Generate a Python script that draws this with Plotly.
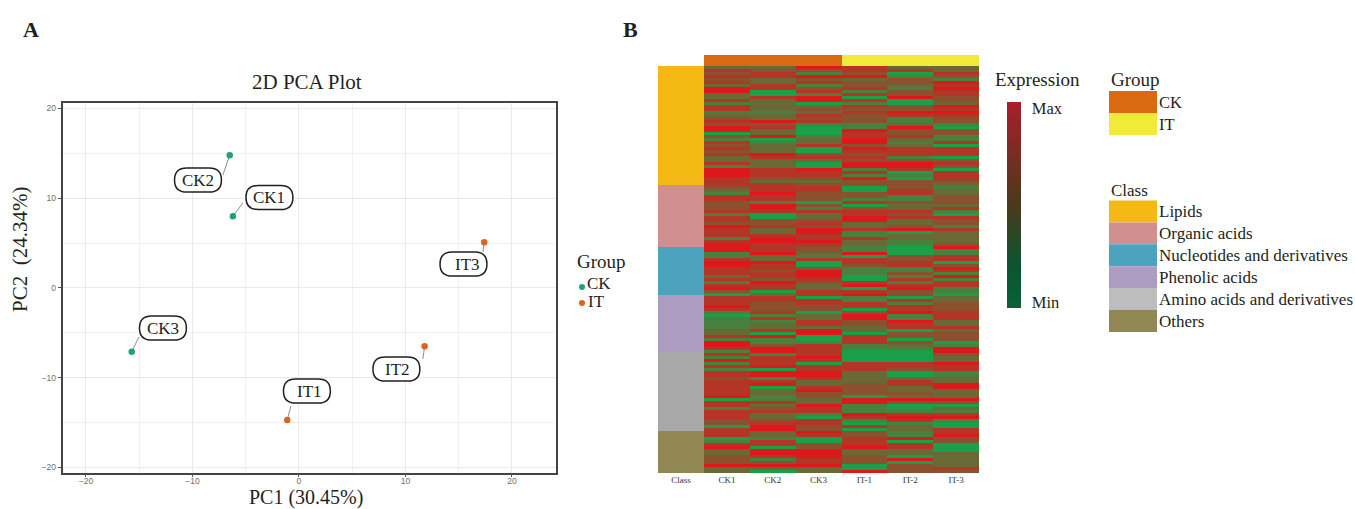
import plotly.graph_objects as go

W, H = 1355, 509
SERIF = "Liberation Serif"
SANS = "Liberation Sans"

# ---- PCA data
samples = ["CK1", "CK2", "CK3", "IT1", "IT2", "IT3"]
pc1 = [-6.2, -6.5, -15.7, -1.1, 11.8, 17.4]
pc2 = [8.0, 14.8, -7.1, -14.7, -6.5, 5.1]
label_x = [-2.77, -9.48, -12.77, 0.75, 9.15, 15.45]
label_y = [10.08, 12.03, -4.46, -11.48, -9.03, 2.67]
text_nudge = [0, 0, 0, 3, 1, 4]
link_x = [-5.26, -7.14, -15.02, -0.75, 11.64, 17.28]
link_y = [9.47, 12.59, -5.46, -13.15, -7.9, 4.0]
groups = ["CK", "CK", "CK", "IT", "IT", "IT"]
group_colors = {"CK": "#1fa27a", "IT": "#d9651f"}

# ---- Heatmap data: one letter per metabolite band
level = {"G": 0.04, "g": 0.26, "o": 0.42, "b": 0.58, "d": 0.78, "r": 0.98}
heat_columns = ["CK1", "CK2", "CK3", "IT-1", "IT-2", "IT-3"]
CK1 = ("odbdbdorroodgddgobdbrrG" "bgdbdbdoodgrrrdddbogddb" "bbdgddbrdddgdrrrggdrrddd"
       "odgdrbGdddrdgGggggoodgr" "rdgdgrgdgddbdddddrGddgd" "ddbbGdddGgdroobbbroo")
CK2 = ("obddooddGGdoooogoorbdoo" "rGgooordooodddbodddrddg" "rrdGGbbdoodrrdddroorddbd"
       "dbrddGoddbbbdgdgoodGrgg" "brrgdddrGrrgdrGooggdobd" "oobdrroogddGrrdgbroG")
CK3 = ("rbgrbdgbdgrrGobodbdgGGG" "goodGGbdoGGrddbobddbbbG" "bgdoobdbrrddrdbbogdGGbrr"
       "rdbooddGddbbGooddorrGGg" "ddddrdGddrrdoodrbboordd" "gGddbbrdGGbbrrrddroo")
IT1 = ("ddbrobbdgdGdgdbdbbbggrd" "drrbrdbdbrrgdgrbbGGbbgd" "GbddrroodggdooggrGddbggg"
       "GGdrGdrggddGbrrbbooGddd" "ggGGGGdddoooobbbbGrrggg" "rdgGdGbbdddroobbbGGr")
IT2 = ("odGgbbogbbrGGbbrdggorbb" "dogodddgbrrdGgGbbbddggb" "oodbdoobrGooggGGGbbddggb"
       "gdgdrbbGdgddrggrddGbbGb" "ogGGGGddbGGoddooborbGGg" "drdgooggrGddooGrGbbb")
IT3 = ("oodbgrdrddbbordrdbbgGbb" "ggdGdddGbdbGdddbogoobbb" "odgGdbbgdoooobrggddGbrdg"
       "rgddggGoobbbdddoodobbbG" "grrboorddggoorrooorbGog" "drgGGddrbbGGGooooodb")
heat_strings = [CK1, CK2, CK3, IT1, IT2, IT3]
n_rows = min(len(s) for s in heat_strings)
heat_z = [[level[s[i]] for s in heat_strings] for i in range(n_rows)]

class_names = ["Lipids", "Organic acids", "Nucleotides and derivatives", "Phenolic acids",
               "Amino acids and derivatives", "Others"]
class_counts = [119, 62, 48, 57, 79, 42]
class_colors = ["#f5b916", "#d09090", "#4ba3bd", "#ac9cc2", "#a8a8a8", "#908752"]
class_swatch = ["#f5b916", "#d09090", "#4ba3bd", "#ac9cc2", "#bdbdbd", "#908752"]
heat_group_colors = {"CK": "#d96a12", "IT": "#f2ea38"}

heat_scale = [[0, "#12a64a"], [1, "#e2141a"]]
bar_scale = [[0, "#0b6038"], [0.2, "#0a5530"], [0.5, "#4a3a1c"], [1, "#aa1e2a"]]


def xd(a, b):
    return [a / W, b / W]


def yd(top, bottom):
    return [(H - bottom) / H, (H - top) / H]


fig = go.Figure()

# PCA connectors and points
for i, s in enumerate(samples):
    fig.add_trace(go.Scatter(x=[pc1[i], link_x[i]], y=[pc2[i], link_y[i]], mode="lines",
                             line=dict(color="#8c8c8c", width=1), showlegend=False, hoverinfo="skip"))
fig.add_trace(go.Scatter(x=pc1, y=pc2, mode="markers", text=samples, showlegend=False,
                         marker=dict(size=6.5, color=[group_colors[g] for g in groups])))

# Class strip
for name, n, c in zip(class_names, class_counts, class_colors):
    fig.add_trace(go.Bar(x=["Class"], y=[n], name=name, marker=dict(color=c, line_width=0),
                         xaxis="x2", yaxis="y2", showlegend=False))

# Expression matrix
fig.add_trace(go.Heatmap(z=heat_z, x=heat_columns, colorscale=heat_scale, zmin=0, zmax=1,
                         showscale=False, xaxis="x3", yaxis="y3", xgap=0, ygap=0))

# Group strip
fig.add_trace(go.Heatmap(z=[[0 if g == "CK" else 1 for g in groups]], x=heat_columns,
                         colorscale=[[0, heat_group_colors["CK"]], [1, heat_group_colors["IT"]]],
                         showscale=False, xaxis="x4", yaxis="y4"))

# Expression colour bar
fig.add_trace(go.Heatmap(z=[[0], [1]], colorscale=bar_scale, zmin=0, zmax=1, xaxis="x5", yaxis="y5",
                         colorbar=dict(x=1006.5 / W, xanchor="left", xpad=0, ypad=0,
                                       y=(H - 308) / H, yanchor="bottom", len=206 / H, thickness=14,
                                       outlinewidth=0, tickvals=[0.97, 0.03], ticktext=["Max", "Min"],
                                       ticks="outside", ticklen=8, tickcolor="rgba(0,0,0,0)",
                                       tickfont=dict(family=SERIF, size=16.5, color="#231f20"))))

ax_hidden = dict(visible=False, showgrid=False, zeroline=False)
grid = dict(tickmode="linear", tick0=0, dtick=10, showgrid=True, gridcolor="#e9e9e9", gridwidth=1.2,
            zeroline=False, minor=dict(dtick=5, showgrid=True, gridcolor="#f1f1f1", gridwidth=1),
            ticks="outside", ticklen=3, tickcolor="#555",
            tickfont=dict(family=SANS, size=8.5, color="#6e6e6e"),
            showline=True, mirror=True, linecolor="#444444", linewidth=1.5)
fig.update_layout(
    width=W, height=H, margin=dict(l=0, r=0, t=0, b=0), paper_bgcolor="white", plot_bgcolor="white",
    barmode="stack", bargap=0,
    xaxis=dict(domain=xd(62.5, 555.5), range=[-22.2, 24.09], ticklabelstandoff=-3, **grid),
    yaxis=dict(domain=yd(103, 472.5), range=[-20.56, 20.61], **grid),
    xaxis2=dict(domain=xd(658, 704), showgrid=False, zeroline=False, ticks="", fixedrange=True,
                tickfont=dict(family=SERIF, size=9, color="#333")),
    yaxis2=dict(domain=yd(66, 473), range=[sum(class_counts), 0], anchor="x2", visible=False),
    xaxis3=dict(domain=xd(704, 979), showgrid=False, zeroline=False, ticks="", anchor="y3",
                tickfont=dict(family=SERIF, size=9, color="#333")),
    yaxis3=dict(domain=yd(66, 473), autorange="reversed", anchor="x3", visible=False),
    xaxis4=dict(domain=xd(704, 979), anchor="y4", **ax_hidden),
    yaxis4=dict(domain=yd(55, 66), anchor="x4", **ax_hidden),
    xaxis5=dict(domain=xd(1007, 1020), anchor="y5", **ax_hidden),
    yaxis5=dict(domain=yd(103, 307), anchor="x5", **ax_hidden),
)


def note(x, y, text, size, family=SERIF, color="#231f20", anchor="center", **kw):
    fig.add_annotation(xref="paper", yref="paper", x=x / W, y=(H - y) / H, text=text, showarrow=False,
                       xanchor=anchor, yanchor="middle", font=dict(family=family, size=size, color=color), **kw)


def pill(cx, cy, hw=2.2, hh=1.34, rx=1.15, ry=1.32):
    l, r, b, t = cx - hw, cx + hw, cy - hh, cy + hh
    return (f"M {l + rx} {b} L {r - rx} {b} Q {r} {b} {r} {b + ry} L {r} {t - ry} Q {r} {t} {r - rx} {t} "
            f"L {l + rx} {t} Q {l} {t} {l} {t - ry} L {l} {b + ry} Q {l} {b} {l + rx} {b} Z")


for s, x, y, dx in zip(samples, label_x, label_y, text_nudge):
    fig.add_shape(type="path", path=pill(x, y), xref="x", yref="y", fillcolor="white",
                  line=dict(color="#231f20", width=1.5))
    fig.add_annotation(x=x, y=y, xref="x", yref="y", text=s, showarrow=False, xshift=dx,
                       font=dict(family=SERIF, size=17, color="#231f20"))

# Panel text
note(31, 30, "<b>A</b>", 22)
note(630, 30, "<b>B</b>", 22)
note(307, 82, "2D PCA Plot", 21)
note(306, 497, "PC1 (30.45%)", 20)
note(20, 250, "PC2  (24.34%)", 21, textangle=-90)

# PCA legend
note(575, 261, "Group", 19, anchor="left")
for g, dot_y, text_x, text_y in zip(["CK", "IT"], [287, 303], [585, 586], [283, 301]):
    fig.add_shape(type="circle", xref="paper", yref="paper", x0=579 / W, x1=585 / W,
                  y0=(H - dot_y - 3) / H, y1=(H - dot_y + 3) / H, fillcolor=group_colors[g], line_width=0)
    note(text_x, text_y, g, 17, anchor="left")

# Heatmap legends
note(993, 80, "Expression", 19, anchor="left")
note(1109, 80, "Group", 19, anchor="left")
for i, g in enumerate(["CK", "IT"]):
    top = 91 + 22 * i
    fig.add_shape(type="rect", xref="paper", yref="paper", x0=1109 / W, x1=1157 / W,
                  y0=(H - top - 22) / H, y1=(H - top) / H, fillcolor=heat_group_colors[g], line_width=0)
    note(1157, top + 11, g, 16.5, anchor="left")
note(1109, 190, "Class", 17, anchor="left")
for i, (name, c) in enumerate(zip(class_names, class_swatch)):
    top = 200.5 + 21.9 * i
    fig.add_shape(type="rect", xref="paper", yref="paper", x0=1109 / W, x1=1157 / W,
                  y0=(H - top - 21.9) / H, y1=(H - top) / H, fillcolor=c, line_width=0)
    note(1157, top + 11, name, 17, anchor="left")

fig.write_html("out.html", config={"displayModeBar": False},
               post_script="document.body.style.margin='0';document.body.style.overflow='hidden';")
